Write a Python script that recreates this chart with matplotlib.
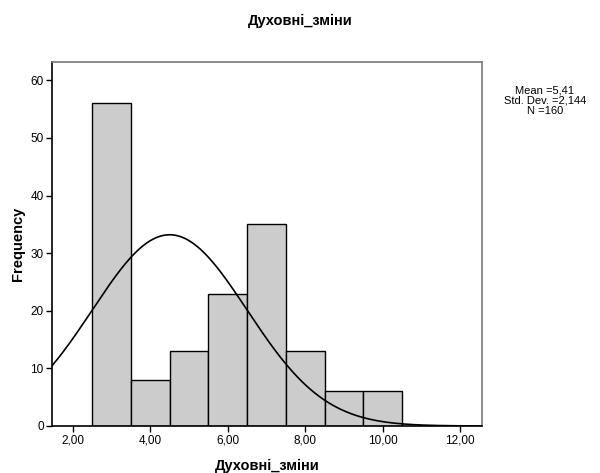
import numpy as np
import matplotlib.pyplot as plt

plt.rcParams['font.family'] = ['Liberation Sans', 'DejaVu Sans']

# histogram bins (left edges) and counts
bin_left = [2.5, 3.5, 4.5, 5.5, 6.5, 7.5, 8.5, 9.5]
counts = [56, 8, 13, 23, 35, 13, 6, 6]
bin_w = 1.0

# normal curve as drawn in the picture
curve_mu = 4.5
curve_sd = 2.0
curve_peak = 33.2

x_ticks = [2, 4, 6, 8, 10, 12]
y_ticks = [0, 10, 20, 30, 40, 50, 60]
stats_txt = "Mean =5,41\nStd. Dev. =2,144\nN =160"

fig = plt.figure(figsize=(6, 4.73), dpi=100)
ax = fig.add_axes([0.0867, 0.0994, 0.7167, 0.7696])

ax.bar(bin_left, counts, width=bin_w, align='edge', color='#cccccc',
       edgecolor='black', linewidth=1.0, zorder=2)

xs = np.linspace(1.46, 12.57, 400)
ys = curve_peak * np.exp(-0.5 * ((xs - curve_mu) / curve_sd) ** 2)
ax.plot(xs, ys, color='black', linewidth=1.2, zorder=3)

ax.set_xlim(1.46, 12.57)
ax.set_ylim(0, 63.2)
ax.set_xticks(x_ticks)
ax.set_xticklabels([("%.2f" % v).replace('.', ',') for v in x_ticks], fontsize=8.5)
ax.set_yticks(y_ticks)
ax.set_yticklabels([str(v) for v in y_ticks], fontsize=8.5)
ax.tick_params(direction='out', length=4, width=1, pad=2)

for s in ['left', 'bottom']:
    ax.spines[s].set_color('black')
    ax.spines[s].set_linewidth(1.2)
for s in ['top', 'right']:
    ax.spines[s].set_color('#777777')
    ax.spines[s].set_linewidth(1.2)

ax.set_xlabel("Духовні_зміни", fontsize=10.5, fontweight='bold', labelpad=9)
ax.set_ylabel("Frequency", fontsize=10.5, fontweight='bold', labelpad=4)
fig.text(0.5, 0.955, "Духовні_зміни", fontsize=10.5, fontweight='bold',
         ha='center', va='center')
fig.text(0.908, 0.787, stats_txt, fontsize=8, ha='center', va='center',
         linespacing=1.0)

fig.savefig("out.png", dpi=100)
